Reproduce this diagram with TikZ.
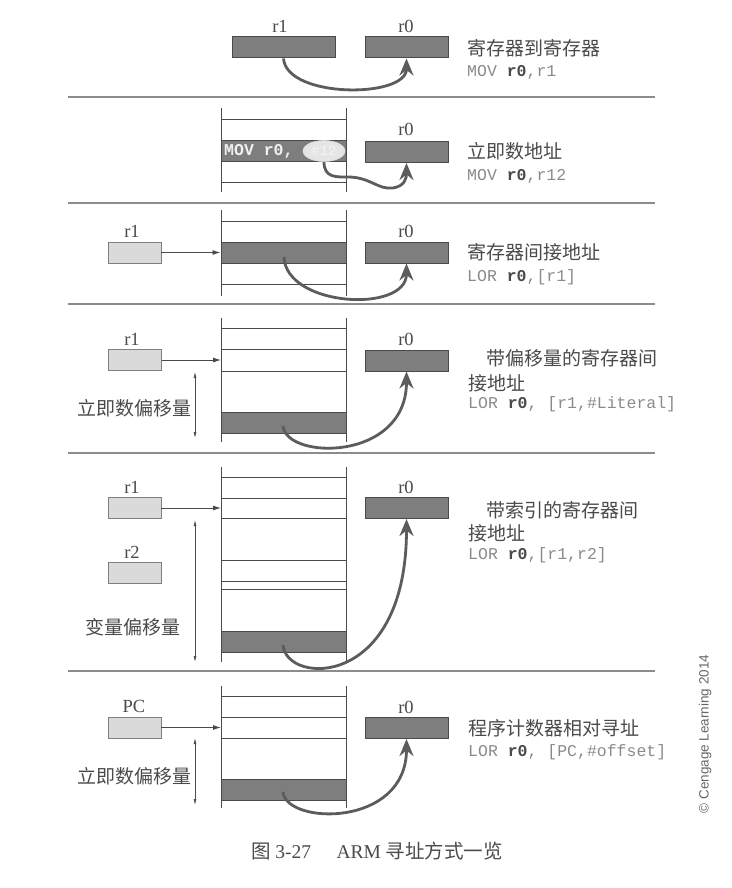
\documentclass[tikz,border=0pt]{standalone}
\usepackage{fontspec}
\setmainfont{Liberation Serif}
\setmonofont{Liberation Mono}
\newfontfamily\cjk{Noto Sans CJK SC}
\newfontfamily\cgsans{Liberation Sans}
\usepackage{xcolor}
\usepackage{tikz}
\usetikzlibrary{arrows.meta,shapes.geometric}
\definecolor{inkgray}{HTML}{4A4A4A}
\definecolor{codegray}{HTML}{8A8A8A}
\definecolor{darkfill}{HTML}{7E7E7E}
\definecolor{lightfill}{HTML}{DADADA}
\definecolor{rulegray}{HTML}{8C8C8C}
\tikzset{darkbox/.style={draw=inkgray, fill=darkfill, line width=1pt,
  minimum width=83pt, minimum height=21pt, inner sep=0pt}}
\tikzset{lightbox/.style={draw=gray, fill=lightfill, line width=0.8pt,
  minimum width=53pt, minimum height=21pt, inner sep=0pt}}
\tikzset{band/.style={draw=inkgray, fill=darkfill, line width=1pt,
  minimum width=125pt, minimum height=21pt, inner sep=0pt}}
\tikzset{move/.style={draw=inkgray!90, line width=2.8pt,
  -{Stealth[length=17pt,width=14pt]}}}
\tikzset{ptr/.style={draw=inkgray, line width=0.9pt, -{Latex[length=8pt,width=5pt]}}}
\tikzset{span/.style={draw=inkgray, line width=0.7pt,
  {Latex[length=6pt,width=3pt]}-{Latex[length=6pt,width=3pt]}}}
\tikzset{cell/.style={draw=inkgray, line width=0.9pt}}
\tikzset{sep/.style={draw=rulegray, line width=2pt}}
\tikzset{reg/.style={text=inkgray, font=\fontsize{18.5}{20}\selectfont, inner sep=0pt}}
\tikzset{title/.style={anchor=west, text=inkgray, font=\cjk\fontsize{19}{21}\selectfont, inner sep=0pt}}
\tikzset{code/.style={anchor=west, text=codegray, font=\ttfamily\fontsize{16.5}{19}\selectfont, inner sep=0pt}}
\tikzset{side/.style={anchor=east, text=inkgray, font=\cjk\fontsize{19}{21}\selectfont, inner sep=0pt}}
\newcommand{\rzero}{\textcolor{inkgray}{\textbf{r0}}}

\begin{document}
\begin{tikzpicture}[x=1pt, y=-1pt]
\useasboundingbox (0,0) rectangle (731,888);

\foreach \y in {97,203,304,453,671}
  \draw[sep] (68,\y) -- (655,\y);

% register to register
\node[darkbox, minimum width=103pt] (r1a) at (283.5,47.5) {};
\node[darkbox] (r0a) at (406.5,47.5) {};
\node[reg] (l1a) at (280,26) {r1};
\node[reg] (l0a) at (406,26) {r0};
\node[title] (t1) at (467,48) {寄存器到寄存器};
\node[code] (c1) at (467,72) {MOV \rzero,r1};
\draw[move] (r1a.south) .. controls +(3,40) and +(0,40) .. (r0a.south);

% immediate
\draw[cell] (221,108) -- (221,192);
\draw[cell] (346,108) -- (346,192);
\draw[cell] (221,119) -- (346,119);
\draw[cell] (221,182) -- (346,182);
\node[band] (m2) at (283.5,151) {};
\node[anchor=west, inner sep=0pt, text=white!88!gray, font=\ttfamily\bfseries\fontsize{16.5}{19}\selectfont] (ins) at (224,151) {MOV r0,};
\node[ellipse, draw=white!75!gray, line width=0.6pt, fill=white!80!gray, minimum width=42pt, minimum height=21pt, inner sep=0pt,
  text=white!92!gray, font=\ttfamily\fontsize{14}{16}\selectfont] (imm) at (324,151) {\#12};
\node[darkbox] (r0b) at (406.5,152) {};
\node[reg] (l0b) at (406,129) {r0};
\node[title] (t2) at (467,151) {立即数地址};
\node[code] (c2) at (467,176) {MOV \rzero,r12};
\draw[move] (imm.south) .. controls +(0,16) and +(-12,0) .. (348,177)
  .. controls (370,177) and (378,190) .. (393,188)
  .. controls (405,186) and (406.5,178) .. (r0b.south);

% register indirect
\draw[cell] (221,210) -- (221,296);
\draw[cell] (346,210) -- (346,296);
\draw[cell] (221,221) -- (346,221);
\draw[cell] (221,284) -- (346,284);
\node[band] (m3) at (283.5,252.5) {};
\node[lightbox] (r1c) at (134.5,252.5) {};
\node[reg] (l1c) at (132,231) {r1};
\node[darkbox] (r0c) at (406.5,252.5) {};
\node[reg] (l0c) at (406,231) {r0};
\node[title] (t3) at (467,252) {寄存器间接地址};
\node[code] (c3) at (467,277) {LOR \rzero,[r1]};
\draw[ptr] (r1c.east) -- (m3.west);
\coordinate (s3) at (284,257);
\draw[move] (s3) .. controls +(2,50) and +(0,50) .. (r0c.south);

% register indirect with offset
\draw[cell] (221,318) -- (221,442);
\draw[cell] (346,318) -- (346,442);
\foreach \y in {328,349,371}
  \draw[cell] (221,\y) -- (346,\y);
\node[band] (m4) at (283.5,423) {};
\node[lightbox] (r1d) at (135,360) {};
\node[reg] (l1d) at (132,339) {r1};
\coordinate (e4) at (221,360);
\draw[ptr] (r1d.east) -- (e4);
\coordinate (sa4) at (195,372);
\coordinate (sb4) at (195,438);
\draw[span] (sa4) -- (sb4);
\node[side] (o4) at (192,408) {立即数偏移量};
\node[darkbox] (r0d) at (406.5,360.5) {};
\node[reg] (l0d) at (406,339) {r0};
\node[title] (t4a) at (486,358) {带偏移量的寄存器间};
\node[title] (t4b) at (468,383) {接地址};
\node[code] (c4) at (468,404) {LOR \rzero, [r1,\#Literal]};
\coordinate (s4) at (283,426);
\draw[move] (s4) .. controls (286,460) and (406.5,462) .. (r0d.south);

% register indirect with index
\draw[cell] (221,467) -- (221,662);
\draw[cell] (346,467) -- (346,662);
\foreach \y in {477,498,518,560,581,589}
  \draw[cell] (221,\y) -- (346,\y);
\node[band] (m5) at (283.5,641.5) {};
\node[lightbox] (r1e) at (134.5,508) {};
\node[reg] (l1e) at (132,487) {r1};
\node[lightbox] (r2e) at (134.5,573) {};
\node[reg] (l2e) at (132,552) {r2};
\coordinate (e5) at (221,508);
\draw[ptr] (r1e.east) -- (e5);
\coordinate (sa5) at (195,520);
\coordinate (sb5) at (195,662);
\draw[span] (sa5) -- (sb5);
\node[side] (o5) at (181,627) {变量偏移量};
\node[darkbox] (r0e) at (406.5,508) {};
\node[reg] (l0e) at (406,487) {r0};
\node[title] (t5a) at (486,510) {带索引的寄存器间};
\node[title] (t5b) at (468,533) {接地址};
\node[code] (c5) at (468,555) {LOR \rzero,[r1,r2]};
\coordinate (s5) at (283,645);
\draw[move] (s5) .. controls (286,685) and (406.5,690) .. (r0e.south);

% program counter relative
\draw[cell] (221,686) -- (221,808);
\draw[cell] (346,686) -- (346,808);
\foreach \y in {696,717,738}
  \draw[cell] (221,\y) -- (346,\y);
\node[band] (m6) at (283.5,789.5) {};
\node[lightbox] (pcf) at (134.5,727.5) {};
\node[reg] (lpc) at (134,706) {PC};
\coordinate (e6) at (221,727.5);
\draw[ptr] (pcf.east) -- (e6);
\coordinate (sa6) at (195,738);
\coordinate (sb6) at (195,805);
\draw[span] (sa6) -- (sb6);
\node[side] (o6) at (192,776) {立即数偏移量};
\node[darkbox] (r0f) at (406.5,728) {};
\node[reg] (l0f) at (406,707) {r0};
\node[title] (t6) at (468,728) {程序计数器相对寻址};
\node[code] (c6) at (468,752) {LOR \rzero, [PC,\#offset]};
\coordinate (s6) at (283,792);
\draw[move] (s6) .. controls (286,825) and (406.5,828) .. (r0f.south);

\node[rotate=90, inner sep=0pt, text=gray!80!black, font=\cgsans\fontsize{13.5}{15}\selectfont] (cr) at (705,734) {© Cengage Learning 2014};
\node[inner sep=0pt, text=inkgray, font=\fontsize{19.5}{22}\selectfont] (cap) at (377,851) {{\cjk 图} 3-27\hspace{1.3em}ARM {\cjk 寻址方式一览}};
\end{tikzpicture}
\end{document}
